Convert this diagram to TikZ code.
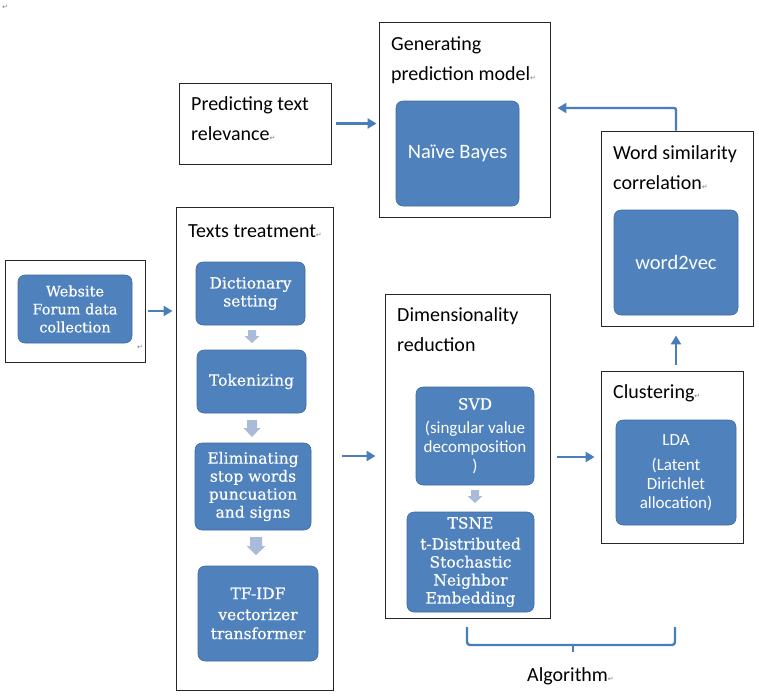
\documentclass[tikz,border=0pt]{standalone}
\usepackage{fontspec}
\setmainfont{Carlito}
\newfontfamily\serifb[FakeBold=0.4]{DejaVu Serif}
\newfontfamily\symf{DejaVu Sans}
\usetikzlibrary{arrows.meta}
\definecolor{boxblue}{HTML}{4F81BD}
\definecolor{boxedge}{HTML}{3D6CA3}
\definecolor{lightarr}{HTML}{A9BBD8}
\definecolor{connblue}{HTML}{4A7EBB}
\newcommand\rmark{{\symf\fontsize{7}{7}\selectfont\textcolor{black!50}{↵}}}
% #1 center x, #2 top y, #3 body half width, #4 head half width, #5 body length, #6 head length
\newcommand\downblock[6]{\fill[lightarr] (#1-#3,#2) -- (#1+#3,#2) -- (#1+#3,#2+#5) -- (#1+#4,#2+#5) -- (#1,#2+#5+#6) -- (#1-#4,#2+#5) -- (#1-#3,#2+#5) -- cycle;}
\tikzset{
 frame/.style={draw=black!85, line width=0.9pt, fill=white, inner sep=0pt},
 bluebox/.style={draw=boxedge, line width=0.6pt, fill=boxblue, rounded corners=7pt, text=white, align=center, inner sep=0pt},
 serifbox/.style={bluebox, font=\serifb\fontsize{15.5}{18}\selectfont},
 sansbox/.style={bluebox, font=\fontsize{20.5}{24}\selectfont},
 smallsans/.style={bluebox, font=\fontsize{17}{19}\selectfont},
 title/.style={anchor=base west, inner sep=0pt, font=\fontsize{20}{30}\selectfont},
 conn/.style={draw=connblue, line width=2.4pt, -{Triangle[length=9pt,width=10pt]}},
 brace/.style={draw=connblue, line width=2.4pt, rounded corners=3pt}
}
\begin{document}
\begin{tikzpicture}[x=1pt,y=-1pt]
\useasboundingbox[fill=white] (0,0) rectangle (759,697);
\node[anchor=base west, inner sep=0pt] (rm0) at (2,9) {\rmark};

% frames
\node[frame, minimum width=140pt, minimum height=102pt] (webf) at (75,311) {};
\node[frame, minimum width=157pt, minimum height=483pt] (texts) at (254.5,448.5) {};
\node[frame, minimum width=165pt, minimum height=324pt] (dim) at (467.5,456) {};
\node[frame, minimum width=142pt, minimum height=172pt] (clust) at (672,457) {};
\node[frame, minimum width=152pt, minimum height=195pt] (ws) at (677,228.5) {};
\node[frame, minimum width=171pt, minimum height=195pt] (gen) at (464.5,119.5) {};
\node[frame, minimum width=152pt, minimum height=81pt] (pred) at (255,123.5) {};

% titles
\node[title] (predT1) at (191,110) {Predicting text};
\node[title] (predT2) at (191,140) {relevance\rmark};
\node[title] (genT1) at (391,50) {Generating};
\node[title] (genT2) at (391,80) {prediction model\rmark};
\node[title] (textsT) at (188,237) {Texts treatment\rmark};
\node[title] (dimT1) at (397,321) {Dimensionality};
\node[title] (dimT2) at (397,351) {reduction};
\node[title] (wsT1) at (613,159) {Word similarity};
\node[title] (wsT2) at (613,189) {correlation\rmark};
\node[title] (clT) at (613,398) {Clustering\rmark};
\node[title] (algT) at (527,681) {Algorithm\rmark};
\node[anchor=base west, inner sep=0pt] (rm1) at (137,349) {\rmark};

% blue boxes
\node[serifbox, minimum width=114pt, minimum height=68pt, font=\serifb\fontsize{14.5}{18}\selectfont] (web) at (75,309) {Website\\Forum data\\collection};
\node[serifbox, minimum width=109pt, minimum height=63pt] (dict) at (250.5,293.5) {Dictionary\\setting};
\node[serifbox, minimum width=109pt, minimum height=63pt] (tok) at (251.5,381.5) {Tokenizing};
\node[serifbox, minimum width=116pt, minimum height=87pt] (elim) at (253,486.5) {Eliminating\\stop words\\puncuation\\and signs};
\node[serifbox, minimum width=120pt, minimum height=95pt, font=\serifb\fontsize{15.5}{25}\selectfont] (tfidf) at (258,613.5) {TF-IDF\\[-4pt]vectorizer\\[-6pt]transformer};
\node[smallsans, minimum width=118pt, minimum height=98pt] (svd) at (475,436) {{\serifb\fontsize{15.5}{18}\selectfont SVD}\\[5pt](singular value\\decomposition\\)};
\node[serifbox, minimum width=127pt, minimum height=100pt] (tsne) at (470.5,562) {TSNE\\[3pt]t-Distributed\\Stochastic\\Neighbor\\Embedding};
\node[smallsans, minimum width=120pt, minimum height=105pt] (lda) at (676,472.5) {LDA\\[6pt](Latent\\Dirichlet\\allocation)};
\node[sansbox, minimum width=124pt, minimum height=105pt] (w2v) at (676,262.5) {word2vec};
\node[sansbox, minimum width=123pt, minimum height=105pt] (nb) at (457.5,153.5) {Naïve Bayes};

% small block arrows
\downblock{252}{330}{4}{7.5}{6}{7}
\downblock{252}{420}{5}{8.5}{8}{9}
\downblock{256}{537}{6}{9.5}{9}{9}
\downblock{475}{490}{4}{7.5}{6}{7}

% connectors
\draw[conn, shorten <=3pt, shorten >=3pt] (webf.east) -- (texts.west |- webf.east);
\draw[conn, shorten <=5pt, shorten >=2pt] (pred.east) -- (pred.east -| gen.west);
\draw[conn, shorten <=9pt, shorten >=9pt] (texts.east |- dim.center) -- (dim.west);
\draw[conn, shorten <=7pt, shorten >=6pt] (dim.east |- clust.center) -- (clust.west);
\draw[conn, shorten <=6pt, shorten >=9pt] ([xshift=4pt]clust.north) -- ([xshift=4pt]clust.north |- ws.south);
\draw[conn, shorten >=7pt, rounded corners=2pt] ([xshift=-1pt]ws.north) |- ([yshift=11.5pt]gen.east);

% brace
\coordinate (bl) at (467,627);
\coordinate (br) at (675,627);
\coordinate (bm) at (573,645);
\coordinate (bt) at (573,652);
\draw[brace] (bl) |- (bm) -| (br);
\draw[brace] (bm) -- (bt);
\end{tikzpicture}
\end{document}
